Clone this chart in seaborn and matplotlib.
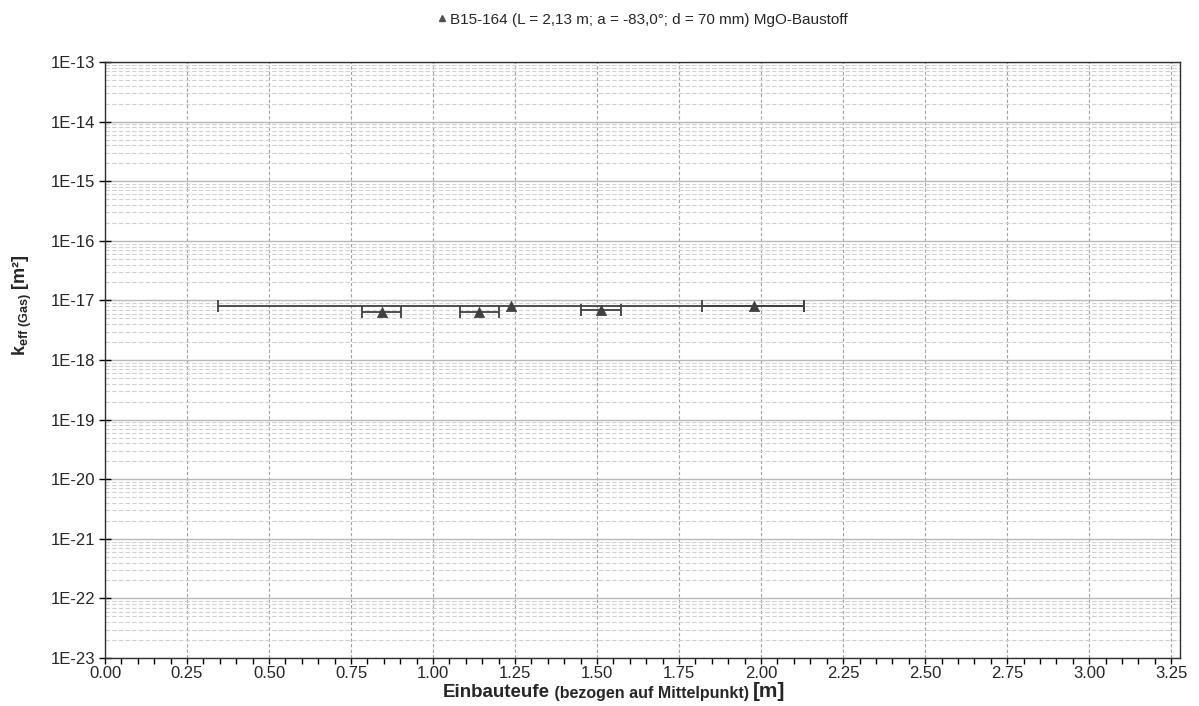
import numpy as np
import pandas as pd
import matplotlib
matplotlib.use("Agg")
import matplotlib.pyplot as plt
import seaborn as sns
from matplotlib.ticker import MultipleLocator, LogLocator, NullFormatter, FuncFormatter
from matplotlib.lines import Line2D

# ---- data ----
depth = [0.843, 1.141, 1.238, 1.511, 1.977]
depth_lo = [0.784, 1.082, 0.344, 1.451, 1.821]
depth_hi = [0.902, 1.201, 2.132, 1.572, 2.132]
keff = [6.4e-18, 6.4e-18, 8.2e-18, 6.9e-18, 8.2e-18]
series_label = "B15-164 (L = 2,13 m; a = -83,0°; d = 70 mm) MgO-Baustoff"
x_ticks = [0.00, 0.25, 0.50, 0.75, 1.00, 1.25, 1.50, 1.75, 2.00, 2.25, 2.50, 2.75, 3.00, 3.25]
y_exponents = [-13, -14, -15, -16, -17, -18, -19, -20, -21, -22, -23]

df = pd.DataFrame({"depth": depth, "keff": keff, "lo": depth_lo, "hi": depth_hi})

sns.set_theme(style="white")
plt.rcParams["font.family"] = ["Liberation Sans", "DejaVu Sans"]
plt.rcParams["mathtext.fontset"] = "custom"
plt.rcParams["mathtext.rm"] = "Liberation Sans"
plt.rcParams["mathtext.bf"] = "Liberation Sans:bold"
plt.rcParams["mathtext.it"] = "Liberation Sans:italic"

W, H = 1199, 706
fig, ax = plt.subplots(figsize=(W / 100, H / 100), dpi=100)
fig.subplots_adjust(left=105 / W, right=1180 / W, top=1 - 62 / H, bottom=1 - 658 / H)

dark = "#404040"

ax.set_yscale("log")
ax.set_ylim(10.0 ** min(y_exponents), 10.0 ** max(y_exponents))
ax.set_xlim(0, 3.277)

# grid
ax.set_xticks(x_ticks)
ax.xaxis.set_minor_locator(MultipleLocator(0.05))
ax.set_yticks([10.0 ** e for e in y_exponents])
ax.yaxis.set_minor_locator(LogLocator(base=10, subs=range(2, 10), numticks=200))
ax.yaxis.set_minor_formatter(NullFormatter())
ax.yaxis.set_major_formatter(FuncFormatter(lambda v, _: f"1E{int(round(np.log10(v)))}"))
ax.xaxis.set_major_formatter(FuncFormatter(lambda v, _: f"{v:.2f}"))

ax.grid(False)
ax.grid(which="major", axis="x", color="#a0a0a0", linestyle=(0, (3, 2)), linewidth=0.8)
ax.grid(which="major", axis="y", color="#b8b8b8", linestyle="-", linewidth=1.0)
ax.grid(which="minor", axis="y", color="#d0d0d0", linestyle=(0, (4, 2)), linewidth=0.8)
ax.set_axisbelow(True)

ax.tick_params(axis="y", which="major", direction="inout", length=8, width=1, color="black",
               labelsize=12, pad=3, left=True)
ax.tick_params(axis="y", which="minor", left=False)
ax.tick_params(axis="x", which="both", direction="out", length=4, width=1, color="black",
               labelsize=12, pad=2, bottom=True)
for s in ax.spines.values():
    s.set_color("#303030")
    s.set_linewidth(1.0)

# error bars + markers
ax.errorbar(df["depth"], df["keff"],
            xerr=[df["depth"] - df["lo"], df["hi"] - df["depth"]],
            fmt="none", ecolor=dark, elinewidth=1.3, capsize=4, capthick=1.3, zorder=4)
sns.scatterplot(data=df, x="depth", y="keff", marker="^", s=55, color=dark,
                edgecolor=dark, linewidth=0.5, ax=ax, zorder=5, legend=False)

# legend-like title
handle = Line2D([], [], marker="^", color="#505050", linestyle="none", markersize=5)
fig.legend([handle], [series_label], loc="upper center", bbox_to_anchor=(642 / W, 1 - 2 / H),
           frameon=False, fontsize=11, handletextpad=0.1, handlelength=0.8, borderpad=0.2)

# y label
ax.set_ylabel(r"$\mathbf{k_{eff\ (Gas)}}$ [m²]", fontsize=13, fontweight="bold")
ax.yaxis.set_label_coords((34 - 105) / 1075, (658 - 305) / 596)
ax.set_xlabel("")

# x label as rich text pieces
t1 = fig.text(0, 0, "Einbauteufe", fontsize=13.5, fontweight="bold", va="baseline", ha="left")
t2 = ax.annotate(" (bezogen auf Mittelpunkt) ", xy=(1, 0), xycoords=t1, va="bottom", ha="left",
                 fontsize=11.5, fontweight="bold")
t3 = ax.annotate("[m]", xy=(1, 0), xycoords=t2, va="bottom", ha="left",
                 fontsize=15, fontweight="bold")
fig.canvas.draw()
r = fig.canvas.get_renderer()
w_total = (t3.get_window_extent(r).x1 - t1.get_window_extent(r).x0)
start_px = 614 - w_total / 2
t1.set_position((start_px / W, 1 - 697 / H))

ax.set_ylim(10.0 ** min(y_exponents), 10.0 ** max(y_exponents))
fig.savefig("out.png", dpi=100)
